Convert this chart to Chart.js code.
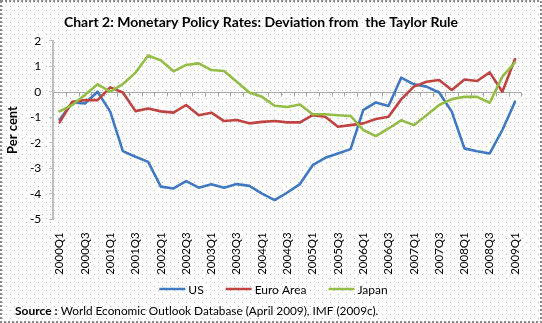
<!DOCTYPE html>
<html>
<head>
<meta charset="utf-8">
<script src="https://cdn.jsdelivr.net/npm/chart.js@4/dist/chart.umd.min.js"></script>
<style>
  html, body { margin: 0; padding: 0; background: #fff; }
  #wrap { width: 542px; height: 323px; position: relative; }
</style>
</head>
<body>
<div id="wrap"><canvas id="c" width="542" height="323"></canvas></div>
<script>
// Quarterly categories, 2000Q1 .. 2009Q1
const quarters = [
  '2000Q1','2000Q2','2000Q3','2000Q4',
  '2001Q1','2001Q2','2001Q3','2001Q4',
  '2002Q1','2002Q2','2002Q3','2002Q4',
  '2003Q1','2003Q2','2003Q3','2003Q4',
  '2004Q1','2004Q2','2004Q3','2004Q4',
  '2005Q1','2005Q2','2005Q3','2005Q4',
  '2006Q1','2006Q2','2006Q3','2006Q4',
  '2007Q1','2007Q2','2007Q3','2007Q4',
  '2008Q1','2008Q2','2008Q3','2008Q4',
  '2009Q1'
];

// Deviation of the policy rate from the Taylor-rule rate, per cent
const usDeviation = [
  -1.10, -0.42, -0.46, 0.00, -0.78, -2.33, -2.55, -2.75,
  -3.72, -3.79, -3.50, -3.76, -3.63, -3.76, -3.62, -3.69,
  -3.99, -4.25, -3.95, -3.62, -2.88, -2.59, -2.42, -2.25,
  -0.72, -0.42, -0.56, 0.55, 0.29, 0.20, -0.03, -0.78,
  -2.22, -2.33, -2.42, -1.50, -0.39
];
const euroDeviation = [
  -1.20, -0.39, -0.33, -0.33, 0.17, -0.03, -0.76, -0.66,
  -0.77, -0.82, -0.52, -0.92, -0.82, -1.15, -1.11, -1.24,
  -1.18, -1.15, -1.20, -1.20, -0.92, -0.98, -1.37, -1.31,
  -1.24, -1.07, -0.98, -0.30, 0.20, 0.39, 0.46, 0.07,
  0.48, 0.42, 0.76, 0.00, 1.28
];
const japanDeviation = [
  -0.77, -0.52, -0.13, 0.29, 0.00, 0.30, 0.75, 1.42,
  1.23, 0.80, 1.05, 1.11, 0.85, 0.81, 0.39, -0.03,
  -0.20, -0.55, -0.60, -0.50, -0.88, -0.88, -0.92, -0.95,
  -1.50, -1.74, -1.44, -1.12, -1.31, -0.92, -0.52, -0.29,
  -0.20, -0.20, -0.43, 0.59, 1.15
];

const seriesNames = ['US', 'Euro Area', 'Japan'];
const seriesColors = ['#3f78c3', '#c0433f', '#93bd45'];
const yTicks = { min: -5, max: 2, step: 1 };

const chartTitle = 'Chart 2: Monetary Policy Rates: Deviation from  the Taylor Rule';
const yTitle = 'Per cent';
const sourceLabel = 'Source :';
const sourceText = ' World Economic Outlook Database (April 2009), IMF (2009c).';

const FONT = 'Lato, "Open Sans", sans-serif';

// Page background: white with a fine dotted fill and a dashed frame
const backgroundPlugin = {
  id: 'dottedBackground',
  beforeDraw(chart) {
    const ctx = chart.ctx;
    const w = chart.width, h = chart.height;
    ctx.save();
    ctx.fillStyle = '#ffffff';
    ctx.fillRect(0, 0, w, h);
    const tile = document.createElement('canvas');
    tile.width = 8; tile.height = 8;
    const t = tile.getContext('2d');
    t.fillStyle = '#b9b9b9';
    t.fillRect(2, 6, 1, 1);
    t.fillRect(6, 2, 1, 1);
    ctx.fillStyle = ctx.createPattern(tile, 'repeat');
    ctx.fillRect(0, 0, w, h);
    ctx.setLineDash([2, 2]);
    ctx.strokeStyle = '#8a8a8a';
    ctx.lineWidth = 2;
    ctx.strokeRect(1, 1, w - 2, h - 2);
    ctx.restore();
  }
};

// Horizontal axis line at zero with category boundary tick marks
const zeroAxisPlugin = {
  id: 'zeroAxis',
  beforeDatasetsDraw(chart) {
    const { ctx, chartArea, scales } = chart;
    const x = scales.x, y = scales.y;
    const y0 = Math.round(y.getPixelForValue(0)) + 0.5;
    const n = chart.data.labels.length;
    const step = x.getPixelForValue(1) - x.getPixelForValue(0);
    ctx.save();
    ctx.strokeStyle = '#a6a6a6';
    ctx.lineWidth = 1;
    ctx.beginPath();
    ctx.moveTo(chartArea.left, y0);
    ctx.lineTo(chartArea.right, y0);
    for (let k = 0; k <= n; k++) {
      const bx = Math.round(x.getPixelForValue(0) - step / 2 + k * step) + 0.5;
      ctx.moveTo(bx, y0);
      ctx.lineTo(bx, y0 + 4);
    }
    ctx.stroke();
    ctx.restore();
  }
};

// Title, legend and source note
const captionPlugin = {
  id: 'captions',
  afterDraw(chart) {
    const ctx = chart.ctx;
    ctx.save();
    ctx.fillStyle = '#000';
    ctx.textBaseline = 'alphabetic';

    ctx.font = 'bold 14px ' + FONT;
    ctx.textAlign = 'center';
    ctx.fillText(chartTitle, 261, 26.5);

    // legend, centred under the plot
    ctx.font = '12px ' + FONT;
    ctx.textAlign = 'left';
    const sample = 26, gap = 3, between = 22;
    const widths = chart.data.datasets.map(d => ctx.measureText(d.label).width);
    const total = widths.reduce((a, b) => a + b, 0) + widths.length * (sample + gap) + (widths.length - 1) * between;
    let lx = 273.5 - total / 2;
    const ly = 289;
    chart.data.datasets.forEach((d, i) => {
      ctx.strokeStyle = d.borderColor;
      ctx.lineWidth = 2.5;
      ctx.beginPath();
      ctx.moveTo(lx, ly);
      ctx.lineTo(lx + sample, ly);
      ctx.stroke();
      ctx.fillText(d.label, lx + sample + gap, ly + 4.5);
      lx += sample + gap + widths[i] + between;
    });

    // source note
    ctx.font = 'bold 12px ' + FONT;
    ctx.fillText(sourceLabel, 15, 314.5);
    const sw = ctx.measureText(sourceLabel).width;
    ctx.font = '11.8px ' + FONT;
    ctx.fillText(sourceText, 15 + sw, 314.5);
    ctx.restore();
  }
};

const datasets = [usDeviation, euroDeviation, japanDeviation].map((values, i) => ({
  label: seriesNames[i],
  data: values,
  borderColor: seriesColors[i],
  backgroundColor: seriesColors[i],
  borderWidth: 2.6,
  pointRadius: 0,
  pointHoverRadius: 0,
  tension: 0,
  fill: false,
  borderJoinStyle: 'round',
  borderCapStyle: 'round',
  order: 2 - i
}));

new Chart(document.getElementById('c'), {
  type: 'line',
  data: { labels: quarters, datasets },
  options: {
    responsive: false,
    animation: false,
    devicePixelRatio: 1,
    layout: { padding: { top: 40.7, right: 13.3, bottom: 0, left: 0 } },
    plugins: {
      legend: { display: false },
      title: { display: false },
      tooltip: { enabled: false }
    },
    scales: {
      x: {
        type: 'category',
        offset: true,
        grid: { display: false, drawTicks: false },
        border: { display: false },
        ticks: {
          autoSkip: false,
          minRotation: 90,
          maxRotation: 90,
          padding: 13,
          color: '#000',
          font: { family: FONT, size: 11.5 },
          callback: function (value, index) {
            return index % 2 === 0 ? this.getLabelForValue(value) : '';
          }
        },
        afterFit(scale) { scale.height = 103.7; }
      },
      y: {
        min: yTicks.min,
        max: yTicks.max,
        ticks: {
          stepSize: yTicks.step,
          padding: 8,
          color: '#000',
          font: { family: FONT, size: 12 }
        },
        grid: {
          drawOnChartArea: false,
          drawTicks: true,
          tickLength: 4,
          color: '#bfbfbf',
          lineWidth: 1
        },
        border: { display: true, color: '#bfbfbf', width: 2 },
        title: {
          display: true,
          text: yTitle,
          color: '#000',
          font: { family: FONT, size: 13, weight: 'bold' },
          padding: { top: 5, bottom: 0 }
        },
        afterFit(scale) { scale.width = 53.3; }
      }
    }
  },
  plugins: [backgroundPlugin, zeroAxisPlugin, captionPlugin]
});
</script>
</body>
</html>
